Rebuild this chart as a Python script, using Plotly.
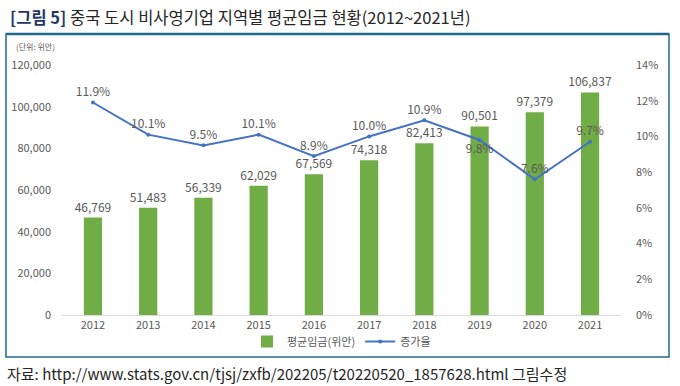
import plotly.graph_objects as go

years = ["2012", "2013", "2014", "2015", "2016", "2017", "2018", "2019", "2020", "2021"]
wages = [46769, 51483, 56339, 62029, 67569, 74318, 82413, 90501, 97379, 106837]
growth = [11.9, 10.1, 9.5, 10.1, 8.9, 10.0, 10.9, 9.8, 7.6, 9.7]
growth_pos = ["top center"] * 7 + ["bottom center", "top center", "top center"]

FONT = "Noto Sans CJK KR, Noto Sans, sans-serif"
GRAY = "#595959"

fig = go.Figure()
fig.add_trace(go.Bar(
    x=years, y=wages, name="평균임금(위안)",
    marker=dict(color="#70AD47", line=dict(width=0)),
    width=0.33,
    text=[f"{v:,}" for v in wages], textposition="outside",
    textfont=dict(size=12, color=GRAY, family=FONT),
    constraintext="none",
    cliponaxis=False,
))
fig.add_trace(go.Scatter(
    x=years, y=growth, name="증가율", yaxis="y2",
    mode="lines+markers+text",
    line=dict(color="#4472C4", width=2),
    marker=dict(size=4, color="#4472C4"),
    text=[f"{v:.1f}%" for v in growth], textposition=growth_pos,
    textfont=dict(size=12, color=GRAY, family=FONT),
    cliponaxis=False,
))

W, H = 680, 386
ML, MR, MT, MB = 62, 59, 65, 71


def px_x(p):
    return (p - ML) / (W - ML - MR)


def px_y(p):
    return (H - MB - p) / (H - MT - MB)


fig.update_layout(
    width=W, height=H,
    margin=dict(l=ML, r=MR, t=MT, b=MB),
    paper_bgcolor="white", plot_bgcolor="white",
    font=dict(family=FONT, size=11, color=GRAY),
    showlegend=True,
    legend=dict(orientation="h", x=0.5, xanchor="center", y=px_y(327), yanchor="top",
                font=dict(size=11, color=GRAY), itemwidth=30,
                tracegroupgap=0, bgcolor="rgba(0,0,0,0)"),
    xaxis=dict(showgrid=False, showline=True, linecolor="#D9D9D9", linewidth=1,
               ticks="", tickfont=dict(size=11, color=GRAY)),
    yaxis=dict(range=[0, 120000], dtick=20000, tickformat=",d", showgrid=False,
               zeroline=False, showline=False, ticks="", ticklabelstandoff=10,
               tickfont=dict(size=11, color=GRAY)),
    yaxis2=dict(range=[0, 14], dtick=2, ticksuffix="%", overlaying="y", side="right",
                showgrid=False, zeroline=False, showline=False, ticks="",
                ticklabelstandoff=14, tickfont=dict(size=11, color=GRAY)),
)

BORDER = "#1F6A8C"
fig.add_shape(type="rect", xref="paper", yref="paper",
              x0=px_x(6), x1=px_x(669), y0=px_y(357), y1=px_y(34),
              line=dict(color=BORDER, width=1.5), layer="below")
fig.add_shape(type="line", xref="paper", yref="paper",
              x0=px_x(6), x1=px_x(669), y0=px_y(34), y1=px_y(34),
              line=dict(color=BORDER, width=2.5))

fig.add_annotation(xref="paper", yref="paper", x=px_x(8), y=px_y(17),
                   xanchor="left", yanchor="middle", showarrow=False,
                   text="<b><span style='color:#1F3864'>[그림 5]</span></b> 중국 도시 비사영기업 지역별 평균임금 현황(2012~2021년)",
                   font=dict(size=16.5, color="#262626", family=FONT))
fig.add_annotation(xref="paper", yref="paper", x=px_x(14), y=px_y(47),
                   xanchor="left", yanchor="middle", showarrow=False,
                   text="(단위: 위안)", font=dict(size=8, color=GRAY, family=FONT))
fig.add_annotation(xref="paper", yref="paper", x=px_x(5), y=px_y(373),
                   xanchor="left", yanchor="middle", showarrow=False,
                   text="자료: http://www.stats.gov.cn/tjsj/zxfb/202205/t20220520_1857628.html 그림수정",
                   font=dict(size=15, color="#262626", family=FONT))

fig.write_html("out.html", config={"displayModeBar": False},
               post_script="document.body.style.margin='0';document.body.style.overflow='hidden';")
